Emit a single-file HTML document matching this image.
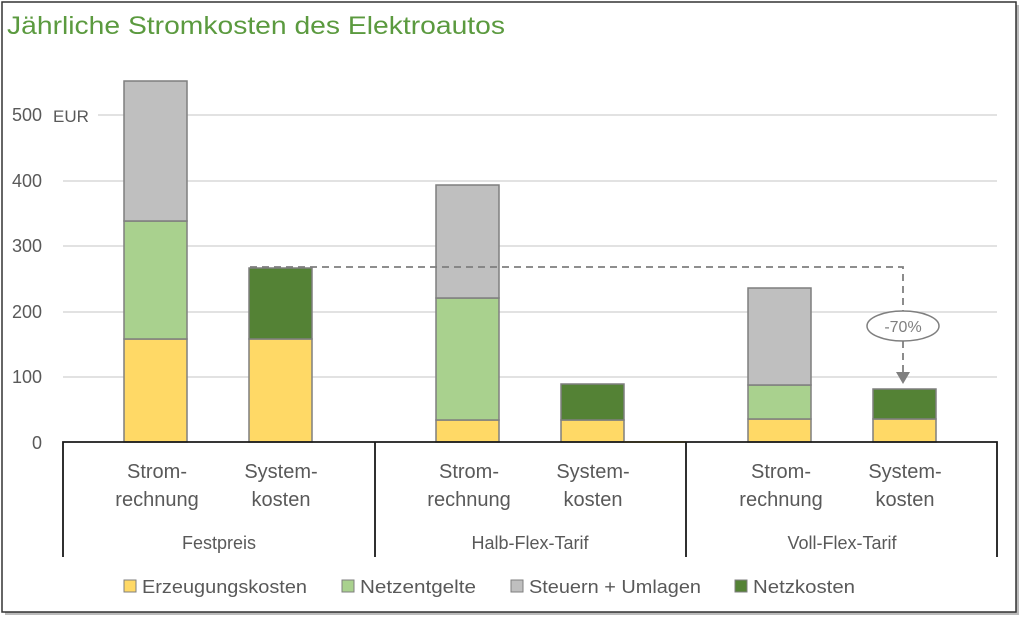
<!DOCTYPE html>
<html><head><meta charset="utf-8"><style>
body{margin:0;background:#fff;}
svg{display:block;font-family:"Liberation Sans",sans-serif;}
</style></head><body>
<svg width="1024" height="622" viewBox="0 0 1024 622">
<rect x="5" y="5" width="1014" height="610" fill="#bbb"/>
<rect x="2" y="2" width="1014" height="610" fill="#fff" stroke="#333" stroke-width="1.5"/>
<text x="7" y="34" font-size="25" fill="#5b9a3f" textLength="498" lengthAdjust="spacingAndGlyphs">Jährliche Stromkosten des Elektroautos</text>
<g stroke="#d9d9d9" stroke-width="1.5">
<line x1="98" y1="115" x2="997" y2="115"/><line x1="63" y1="181" x2="997" y2="181"/>
<line x1="63" y1="246" x2="997" y2="246"/><line x1="63" y1="312" x2="997" y2="312"/>
<line x1="63" y1="377" x2="997" y2="377"/></g>
<g font-size="18" fill="#595959" text-anchor="end">
<text x="42" y="121">500</text><text x="42" y="187">400</text><text x="42" y="252">300</text>
<text x="42" y="318">200</text><text x="42" y="383">100</text><text x="42" y="449">0</text></g>
<text x="53" y="122" font-size="17" fill="#595959">EUR</text>
<g stroke="#7f7f7f" stroke-width="1.5">
<rect x="124" y="339" width="63" height="103" fill="#ffd966"/>
<rect x="124" y="221" width="63" height="118" fill="#a9d18e"/>
<rect x="124" y="81" width="63" height="140" fill="#bfbfbf"/>
<rect x="249" y="339" width="63" height="103" fill="#ffd966"/>
<rect x="249" y="268" width="63" height="71" fill="#548235"/>
<rect x="436" y="420" width="63" height="22" fill="#ffd966"/>
<rect x="436" y="298" width="63" height="122" fill="#a9d18e"/>
<rect x="436" y="185" width="63" height="113" fill="#bfbfbf"/>
<rect x="561" y="420" width="63" height="22" fill="#ffd966"/>
<rect x="561" y="384" width="63" height="36" fill="#548235"/>
<rect x="748" y="419" width="63" height="23" fill="#ffd966"/>
<rect x="748" y="385" width="63" height="34" fill="#a9d18e"/>
<rect x="748" y="288" width="63" height="97" fill="#bfbfbf"/>
<rect x="873" y="419" width="63" height="23" fill="#ffd966"/>
<rect x="873" y="389" width="63" height="30" fill="#548235"/>
</g>
<line x1="624" y1="442" x2="686" y2="442" stroke="#ffd966" stroke-width="2"/>
<path d="M250 267 H903 V311 M903 341 V372" fill="none" stroke="#7f7f7f" stroke-width="1.8" stroke-dasharray="7,5"/>
<path d="M896 372 H910 L903 384 Z" fill="#7f7f7f"/>
<ellipse cx="903" cy="326" rx="36" ry="15" fill="#fff" stroke="#7f7f7f" stroke-width="1.5"/>
<text x="903" y="332" font-size="16" fill="#7f7f7f" text-anchor="middle">-70%</text>
<path d="M63 557 V442 H997 V557 M375 442 V557 M686 442 V557" fill="none" stroke="#1a1a1a" stroke-width="1.8"/>
<g font-size="20" fill="#595959" text-anchor="middle">
<text x="157" y="478">Strom-</text><text x="157" y="506">rechnung</text>
<text x="281" y="478">System-</text><text x="281" y="506">kosten</text>
<text x="469" y="478">Strom-</text><text x="469" y="506">rechnung</text>
<text x="593" y="478">System-</text><text x="593" y="506">kosten</text>
<text x="781" y="478">Strom-</text><text x="781" y="506">rechnung</text>
<text x="905" y="478">System-</text><text x="905" y="506">kosten</text>
<text x="219" y="549" font-size="18">Festpreis</text>
<text x="530" y="549" font-size="18">Halb-Flex-Tarif</text>
<text x="842" y="549" font-size="18">Voll-Flex-Tarif</text></g>
<g font-size="18" fill="#595959" stroke-width="1">
<rect x="124" y="580" width="12" height="12" fill="#ffd966" stroke="#7f7f7f"/><text x="142" y="593" textLength="165" lengthAdjust="spacingAndGlyphs">Erzeugungskosten</text>
<rect x="342" y="580" width="12" height="12" fill="#a9d18e" stroke="#7f7f7f"/><text x="360" y="593" textLength="116" lengthAdjust="spacingAndGlyphs">Netzentgelte</text>
<rect x="511" y="580" width="12" height="12" fill="#bfbfbf" stroke="#7f7f7f"/><text x="529" y="593" textLength="172" lengthAdjust="spacingAndGlyphs">Steuern + Umlagen</text>
<rect x="735" y="580" width="12" height="12" fill="#548235" stroke="#7f7f7f"/><text x="753" y="593" textLength="102" lengthAdjust="spacingAndGlyphs">Netzkosten</text></g>
</svg>
</body></html>
